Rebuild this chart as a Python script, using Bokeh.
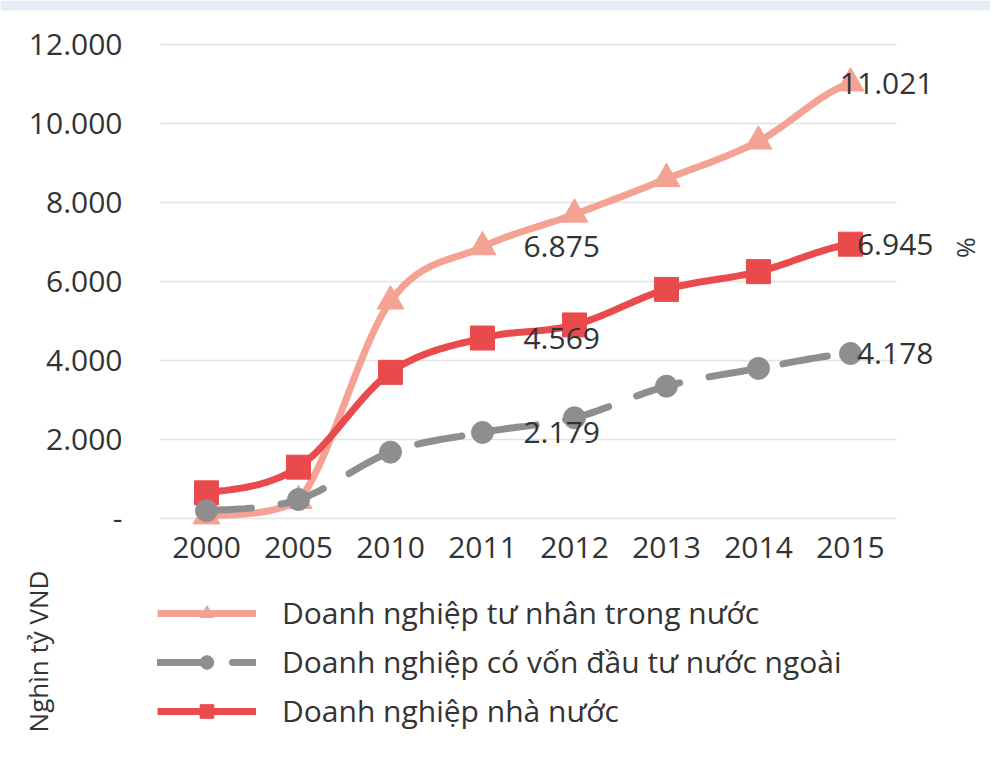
import math
import numpy as np
from bokeh.plotting import figure
from bokeh.models import (FixedTicker, Range1d, Legend, LegendItem, LabelSet,
                          Label, ColumnDataSource, BoxAnnotation)
from bokeh.core.properties import value
from bokeh.embed import file_html
from bokeh.resources import INLINE

# ---------------- data ----------------
years = ["2000", "2005", "2010", "2011", "2012", "2013", "2014", "2015"]
private_dn = [60, 450, 5500, 6875, 7700, 8600, 9550, 11021]   # Doanh nghiệp tư nhân trong nước
fdi_dn = [200, 480, 1680, 2179, 2550, 3350, 3800, 4178]        # Doanh nghiệp có vốn đầu tư nước ngoài
state_dn = [650, 1300, 3700, 4569, 4900, 5800, 6250, 6945]     # Doanh nghiệp nhà nước
y_ticks = [0, 2000, 4000, 6000, 8000, 10000, 12000]
series_names = ["Doanh nghiệp tư nhân trong nước",
                "Doanh nghiệp có vốn đầu tư nước ngoài",
                "Doanh nghiệp nhà nước"]
label_years = ["2011", "2015"]
y_axis_title = "Nghìn tỷ VND"
unit_mark = "%"

FONT = "Open Sans"
TXT = "#333333"
C_PRIV = "#f4a294"
C_FDI = "#8e8e8e"
C_STATE = "#e94b4c"
C_GRID = "#e2e2e2"
C_BAND = "#e6ebf6"

W, H = 990, 766


def fmt(v):
    return f"{v:,}".replace(",", ".")


def smooth(xs, ys, n=24):
    """Smoothed line through the points (Catmull-Rom tangents, limited so a
    segment never leaves the range of its two end points)."""
    xs = [float(v) for v in xs]
    ys = [float(v) for v in ys]
    m = len(ys)
    tang = []
    for i in range(m):
        if i == 0:
            tang.append((ys[1] - ys[0]) / 2.0)
        elif i == m - 1:
            tang.append((ys[-1] - ys[-2]) / 2.0)
        else:
            tang.append((ys[i + 1] - ys[i - 1]) / 2.0)
    ox, oy = [], []
    for i in range(m - 1):
        d = ys[i + 1] - ys[i]
        a, b = tang[i], tang[i + 1]
        if d != 0:
            a = max(min(a / d, 3.0), 0.0) * d
            b = max(min(b / d, 3.0), 0.0) * d
        ts = np.linspace(0, 1, n, endpoint=(i == m - 2))
        for t in ts:
            h00 = 1 - 3 * t * t + 2 * t ** 3
            h10 = t - 2 * t * t + t ** 3
            h01 = 3 * t * t - 2 * t ** 3
            h11 = t ** 3 - t * t
            ox.append(xs[i] + t * (xs[i + 1] - xs[i]))
            oy.append(float(h00 * ys[i] + h10 * a + h01 * ys[i + 1] + h11 * b))
    return ox, oy


idx = list(range(len(years)))

# the frame covers the whole figure; the axes are pinned inside it
p = figure(width=W, height=H, output_backend="svg", toolbar_location=None,
           x_range=Range1d(-2.239, 8.522), y_range=Range1d(-6278, 13114),
           min_border_left=0, min_border_right=0, min_border_top=0,
           min_border_bottom=0)
p.outline_line_color = None
p.background_fill_color = "white"
p.border_fill_color = "white"

# light page band along the top edge
p.add_layout(BoxAnnotation(bottom=H - 10, bottom_units="screen", top=H, top_units="screen",
                           fill_color=C_BAND, fill_alpha=1, line_alpha=0))

p.xaxis.fixed_location = 0
p.yaxis.fixed_location = -0.5

p.xaxis.ticker = FixedTicker(ticks=idx)
p.xaxis.major_label_overrides = {i: y for i, y in zip(idx, years)}
p.yaxis.ticker = FixedTicker(ticks=y_ticks)
p.yaxis.major_label_overrides = {t: ("-" if t == 0 else fmt(t)) for t in y_ticks}
for ax in (p.xaxis, p.yaxis):
    ax.axis_line_color = None
    ax.major_tick_line_color = None
    ax.minor_tick_line_color = None
    ax.major_tick_out = 0
    ax.major_tick_in = 0
    ax.minor_tick_out = 0
    ax.minor_tick_in = 0
    ax.major_label_text_font = FONT
    ax.major_label_text_color = TXT
p.xaxis.major_label_text_font_size = "30px"
p.yaxis.major_label_text_font_size = "30px"
p.xaxis.major_label_standoff = 18
p.yaxis.major_label_standoff = 38

# horizontal grid lines only across the category area
p.xgrid.grid_line_color = None
p.ygrid.grid_line_color = None
p.segment(x0=-0.5, x1=len(years) - 0.5, y0=y_ticks, y1=y_ticks,
          line_color=C_GRID, line_width=1.5)

# series
sx, sy = smooth(idx, private_dn)
l1 = p.line(sx, sy, line_color=C_PRIV, line_width=7)
m1 = p.scatter(idx, private_dn, marker="triangle", size=27, color=C_PRIV)

sx, sy = smooth(idx, state_dn)
l3 = p.line(sx, sy, line_color=C_STATE, line_width=7)
m3 = p.scatter(idx, state_dn, marker="square", size=24, color=C_STATE)

sx, sy = smooth(idx, fdi_dn)
l2 = p.line(sx, sy, line_color=C_FDI, line_width=7, line_dash="45 30", line_cap="round")
m2 = p.scatter(idx, fdi_dn, marker="circle", size=22, color=C_FDI)

# data labels
lx, ly, lt, loff, lal = [], [], [], [], []
for ser in (private_dn, state_dn, fdi_dn):
    for yr in label_years:
        i = years.index(yr)
        lx.append(i); ly.append(ser[i]); lt.append(fmt(ser[i]))
        if yr == "2015":
            loff.append(83); lal.append("right")
        else:
            loff.append(41); lal.append("left")
src = ColumnDataSource(dict(x=lx, y=ly, t=lt, off=loff, al=lal))
ls = LabelSet(x="x", y="y", text="t", source=src, x_offset="off", text_align="al",
              text_baseline="middle", text_font=value(FONT), text_font_size="30px",
              text_color=TXT)
p.add_layout(ls)

# "%" unit mark at right, vertical unit title at bottom-left (screen px from bottom-left)
p.add_layout(Label(x=966, y=H - 247, x_units="screen", y_units="screen", text=unit_mark,
                   angle=-math.pi / 2, text_align="center", text_baseline="middle",
                   text_font=FONT, text_font_size="25px", text_color=TXT))
p.add_layout(Label(x=37, y=H - 651, x_units="screen", y_units="screen", text=y_axis_title,
                   angle=math.pi / 2, text_align="center", text_baseline="middle",
                   text_font=FONT, text_font_size="26px", text_color=TXT))

legend = Legend(items=[LegendItem(label=series_names[0], renderers=[l1, m1]),
                       LegendItem(label=series_names[1], renderers=[l2, m2]),
                       LegendItem(label=series_names[2], renderers=[l3, m3])],
                location=(157, H - 731), orientation="vertical", glyph_width=99, glyph_height=34,
                spacing=8, label_standoff=26, padding=0, margin=0,
                border_line_alpha=0, background_fill_alpha=0,
                label_text_font=FONT, label_text_font_size="30px", label_text_color=TXT)
p.add_layout(legend)

open("out.html", "w").write(file_html(p, INLINE))
